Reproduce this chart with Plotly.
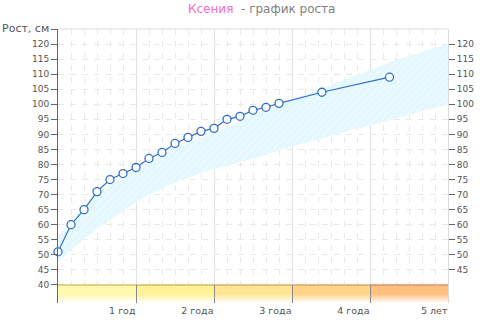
import plotly.graph_objects as go

# ---- data ----
months = [0, 2, 4, 6, 8, 10, 12, 14, 16, 18, 20, 22, 24, 26, 28, 30, 32, 34, 40.6, 51]
heights = [51, 60, 65, 71, 75, 77, 79, 82, 84, 87, 89, 91, 92, 95, 96, 98, 99, 100.3, 104, 109]

band_months = [0, 3, 6, 9, 12, 18, 24, 30, 36, 42, 48, 54, 60]
band_lower = [47.5, 53.5, 58.5, 63, 67.5, 74, 78.5, 82, 86, 89.5, 93, 96.5, 100]
band_upper = [56, 63.5, 70, 74.5, 78, 85.5, 90.5, 96.5, 101.5, 106.5, 111.5, 116, 120]

year_ticks = [12, 24, 36, 48, 60]
year_labels = ["1 год", "2 года", "3 года", "4 года", "5 лет"]
strip_colors = ["#FFF9AE", "#FFF196", "#FFE592", "#FFD488", "#FFBF7E"]
strip_lines = ["#D6C470", "#D6BC64", "#D8B266", "#DCA46C", "#D8966C"]

y_left_vals = list(range(40, 121, 5)) + [125]
y_left_text = [str(v) for v in range(40, 121, 5)] + ["<span style='font-size:11px'>Рост, см</span>"]
y_right_vals = list(range(45, 121, 5))

Y_MIN, Y_MAX = 34, 125
STRIP_TOP = 40

fig = go.Figure()

# normal range band
fig.add_trace(go.Scatter(x=band_months, y=band_lower, mode="lines", line=dict(width=0, shape="spline"),
                         hoverinfo="skip", showlegend=False))
fig.add_trace(go.Scatter(x=band_months, y=band_upper, mode="lines", line=dict(width=0, shape="spline"),
                         fill="tonexty", fillcolor="#E8FAFF",
                         fillpattern=dict(shape="/", bgcolor="#E9FAFF", fgcolor="#D3F0F9", size=5, solidity=0.25),
                         hoverinfo="skip", showlegend=False))

# bottom age strip
starts = [0] + year_ticks[:-1]
for s, e, c, lc in zip(starts, year_ticks, strip_colors, strip_lines):
    fig.add_trace(go.Scatter(x=[s, e, e, s, s], y=[Y_MIN, Y_MIN, STRIP_TOP, STRIP_TOP, Y_MIN],
                             mode="lines", line=dict(width=0), fill="toself",
                             fillgradient=dict(type="vertical", start=Y_MIN, stop=STRIP_TOP,
                                               colorscale=[[0, "#FFFFFF"], [0.5, c], [1, c]]),
                             hoverinfo="skip", showlegend=False))
    fig.add_trace(go.Scatter(x=[s, e], y=[STRIP_TOP, STRIP_TOP], mode="lines",
                             line=dict(width=1.5, color=lc), hoverinfo="skip", showlegend=False))

# growth line
fig.add_trace(go.Scatter(x=months, y=heights, mode="lines+markers",
                         line=dict(color="#2F6FC6", width=1.2),
                         marker=dict(symbol="circle", size=8, color="white",
                                     line=dict(color="#2F6FC6", width=1.3)),
                         cliponaxis=False, showlegend=False))

# dummy trace for right axis
fig.add_trace(go.Scatter(x=[0], y=[Y_MIN], yaxis="y2", mode="markers",
                         marker=dict(opacity=0), hoverinfo="skip", showlegend=False))

grid_c = "#E9E9E9"
fig.update_layout(
    width=480, height=328,
    margin=dict(l=58, r=32, t=29, b=25, autoexpand=False),
    paper_bgcolor="white", plot_bgcolor="white",
    font=dict(family="DejaVu Sans", size=9, color="#555555"),
    xaxis=dict(range=[0, 60], tickvals=year_ticks, ticktext=year_labels,
               ticks="inside", ticklen=18, tickcolor="#8A8A8A", tickwidth=1,
               ticklabelposition="outside left", automargin=False,
               tickfont=dict(size=9.5, color="#555555"),
               showgrid=True, gridcolor="#E2E2E2", gridwidth=1,
               minor=dict(dtick=2, tick0=0, showgrid=True, gridcolor=grid_c, griddash="6px,6px"),
               showline=False, zeroline=False, fixedrange=True),
    xaxis2=dict(range=[0, 60], overlaying="x", side="top", anchor="free",
                position=(STRIP_TOP - Y_MIN) / (Y_MAX - Y_MIN), automargin=False,
                dtick=2, tick0=0, ticks="inside", ticklen=6, tickcolor="#C8B478",
                showticklabels=False, showgrid=False, showline=False, zeroline=False),
    yaxis=dict(range=[Y_MIN, Y_MAX], tickvals=y_left_vals, ticktext=y_left_text,
               ticks="outside", ticklen=6, tickcolor="#666666", automargin=False,
               showline=True, linecolor="#666666", linewidth=1,
               showgrid=True, gridcolor=grid_c, griddash="6px,6px",
               zeroline=False, tickfont=dict(size=9, color="#555555")),
    yaxis2=dict(range=[Y_MIN, Y_MAX], overlaying="y", side="right", tickvals=y_right_vals,
                ticks="outside", ticklen=6, tickcolor="#666666", automargin=False,
                showline=True, linecolor="#DADADA", showgrid=False, zeroline=False,
                tickfont=dict(size=9, color="#555555")),
    shapes=[dict(type="line", xref="paper", yref="paper", x0=0, x1=1, y0=1, y1=1,
                 line=dict(color="#DADADA", width=1))],
    annotations=[dict(xref="paper", yref="paper", x=(261 - 58) / 390, y=1 + (29 - 9) / 274,
                      xanchor="center", yanchor="middle", showarrow=False,
                      text="<span style='color:#F36CC6'>Ксения</span>  - график роста",
                      font=dict(size=12, color="#7F7F7F"))],
)

fig.write_html("out.html")
